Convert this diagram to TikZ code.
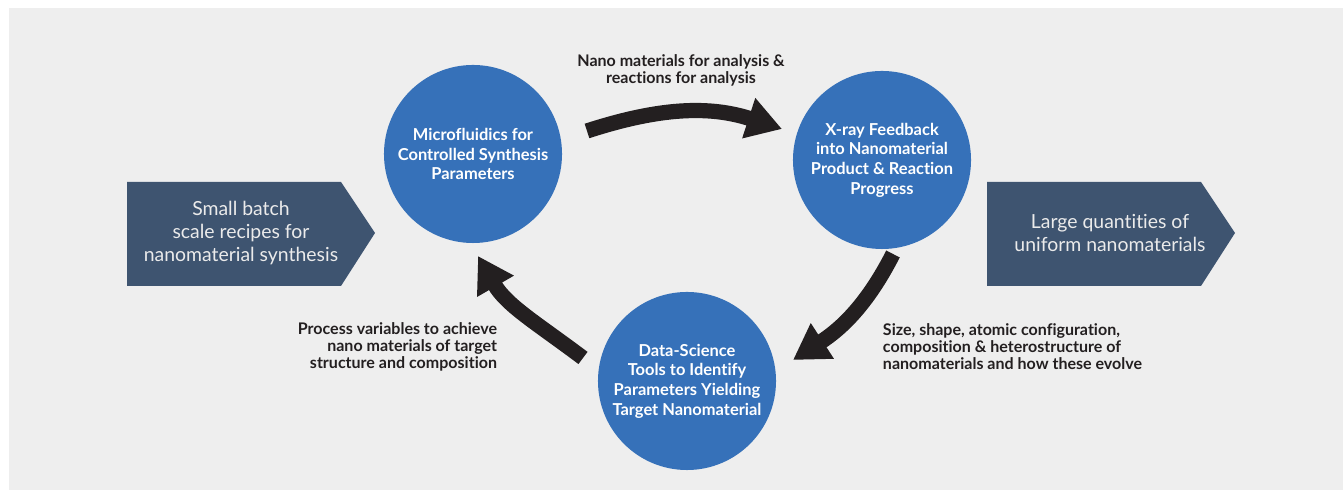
\documentclass[tikz,border=0pt]{standalone}
\usepackage{fontspec}
\setmainfont{Lato}[Ligatures=NoCommon]
\usetikzlibrary{arrows.meta}
\definecolor{bggray}{HTML}{EEEEEE}
\definecolor{circblue}{HTML}{3671B9}
\definecolor{slate}{HTML}{3E5470}
\definecolor{arrowblack}{HTML}{231F20}
\tikzset{
  stage/.style={circle, fill=circblue, minimum size=4.45cm, inner sep=0pt, text=white, align=center, font=\fontsize{11.7}{14}\selectfont\bfseries},
  flow/.style={draw=arrowblack, line width=0.38cm, -{Triangle[length=0.875cm,width=1cm]}},
  note/.style={text=arrowblack, font=\fontsize{11.4}{12.1}\selectfont\bfseries},
  boxtext/.style={text=white!92!black, align=center, font=\fontsize{13.8}{16.4}\selectfont}
}
\begin{document}
\begin{tikzpicture}[x=0.025cm,y=0.025cm]
    % Hintergrund
    \useasboundingbox (0,0) rectangle (1343,490);
    \fill[bggray] (9,0) rectangle (1343,482);
    % Eingang und Ausgang
    \fill[slate] (127,204) -- (341,204) -- (375,257) -- (341,308) -- (127,308) -- cycle;
    \node[boxtext] (recipes) at (241,257) {Small batch\\scale recipes for\\nanomaterial synthesis};
    \fill[slate] (987,204) -- (1201,204) -- (1235,257) -- (1201,308) -- (987,308) -- cycle;
    \node[boxtext] (quantities) at (1110,257) {Large quantities of\\uniform nanomaterials};
    % Kreise
    \node[stage] (micro) at (473,336) {Microfluidics for\\Controlled Synthesis\\Parameters};
    \node[stage] (xray) at (882,330) {X-ray Feedback\\into Nanomaterial\\Product \& Reaction\\Progress};
    \node[stage] (datasci) at (687,109) {Data-Science\\Tools to Identify\\Parameters Yielding\\Target Nanomaterial};
    % Pfeile
    \coordinate (microOut) at (587,359);
    \coordinate (xrayIn) at (782,361);
    \coordinate (xrayOut) at (893,236);
    \coordinate (dataIn) at (793,130);
    \coordinate (dataOut) at (583,132);
    \coordinate (microIn) at (478,234);
    \draw[flow] (microOut) to[out=18,in=162] (xrayIn);
    \draw[flow] (xrayOut) to[out=243,in=33] (dataIn);
    \draw[flow] (dataOut) to[out=143,in=300] (microIn);
    % Beschriftung
    \node[note, align=center] (lblTop) at (681,420) {Nano materials for analysis \&\\reactions for analysis};
    \node[note, align=left, anchor=west] (lblRight) at (878,143) {Size, shape, atomic configuration,\\composition \& heterostructure of\\nanomaterials and how these evolve};
    \node[note, align=right, anchor=east] (lblLeft) at (502,143) {Process variables to achieve\\nano materials of target\\structure and composition};
\end{tikzpicture}
\end{document}
